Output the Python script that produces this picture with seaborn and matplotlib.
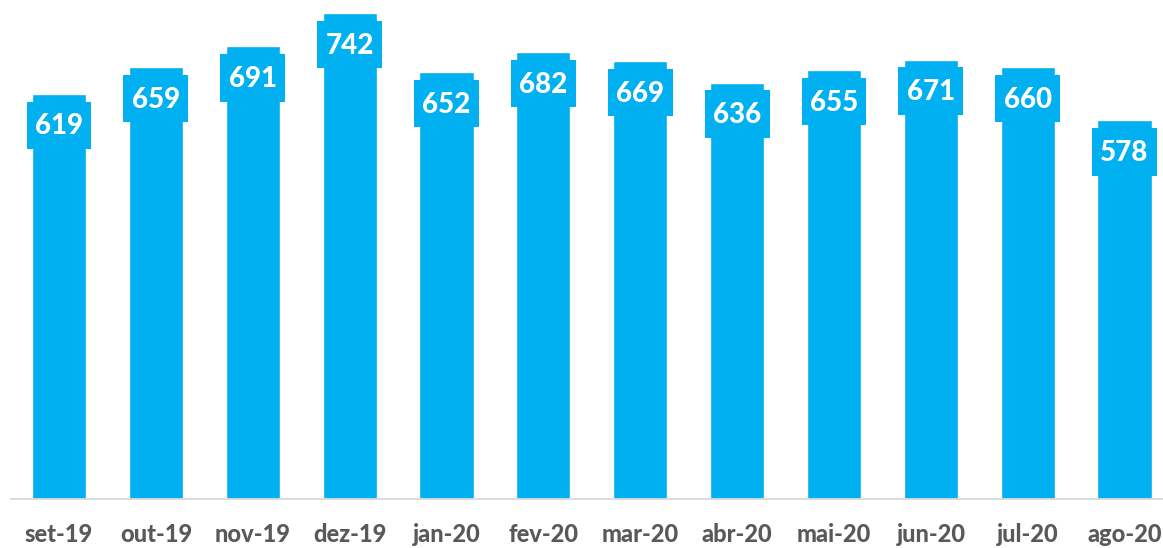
import matplotlib
matplotlib.use("Agg")
import matplotlib.pyplot as plt
import seaborn as sns
from matplotlib.patches import Rectangle

months = ["set-19", "out-19", "nov-19", "dez-19", "jan-20", "fev-20",
          "mar-20", "abr-20", "mai-20", "jun-20", "jul-20", "ago-20"]
values = [619, 659, 691, 742, 652, 682, 669, 636, 655, 671, 660, 578]

blue = "#00B0F0"
grey = "#D9D9D9"

sns.set_style("white")
plt.rcParams['font.family'] = ['Lato', 'DejaVu Sans']

fig = plt.figure(figsize=(11.63, 5.48), dpi=100)
ax = fig.add_axes([10.6 / 1163, 49 / 548, 1162.4 / 1163, 499 / 548])

sns.barplot(x=months, y=values, color=blue, width=0.56, saturation=1, ax=ax)

# label boxes, a bit wider than the bars, sitting just under the bar top
for i, v in enumerate(values):
    ax.add_patch(Rectangle((i - 0.335, v - 84), 0.67, 72, color=blue, lw=0, zorder=3))
    ax.text(i, v - 50, str(v), ha="center", va="center", color="white",
            fontsize=20, fontweight="black", zorder=4)

ax.set_xlim(-0.5, 11.5)
ax.set_ylim(0, 762)
ax.set_yticks([])
for s in ["top", "right", "left"]:
    ax.spines[s].set_visible(False)
ax.spines["bottom"].set_color(grey)
ax.spines["bottom"].set_linewidth(1.3)

ax.set_xticks(range(len(months)))
ax.set_xticklabels(months, fontsize=17, fontweight="black", color="#595959")
ax.tick_params(axis="x", which="major", length=0, pad=17)
ax.set_xticks([i - 0.5 for i in range(len(months) + 1)], minor=True)
ax.tick_params(axis="x", which="minor", length=7, width=1.3, color=grey)

fig.savefig("out.png", dpi=100)
